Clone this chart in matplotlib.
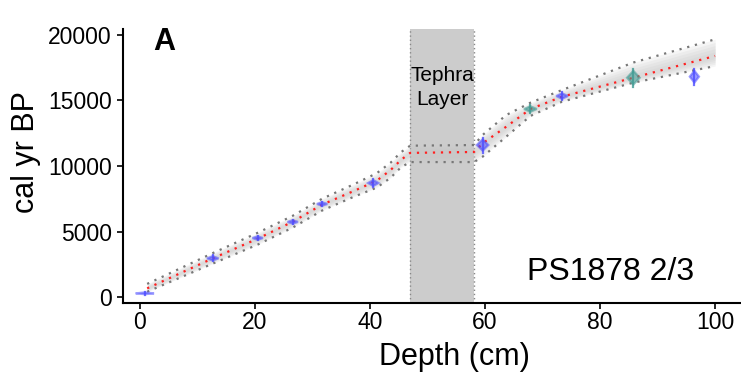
import matplotlib
matplotlib.use("Agg")
import matplotlib.pyplot as plt
import numpy as np
from matplotlib.patches import Polygon

plt.rcParams['font.family'] = ['Liberation Sans', 'DejaVu Sans']

# ---- data ----
# age-depth model (mean and confidence bounds)
model_depth = [1.3, 12.7, 20.5, 26.6, 31.7, 37.2, 41.2, 43.6, 45.4, 47.0,
               58.1, 59.6, 63.7, 67.9, 73.4, 85.8, 100.0]
model_mean = [660, 2950, 4450, 5750, 7050, 8090, 8880, 9690, 10460, 11000,
              11070, 11730, 13000, 14350, 15290, 16740, 18400]
model_upper = [1000, 3350, 4900, 6200, 7500, 8600, 9450, 10250, 11050, 11550,
               11600, 12370, 13890, 14830, 15800, 17900, 19670]
model_lower = [400, 2550, 4000, 5300, 6600, 7650, 8350, 9100, 9900, 10300,
               10300, 10710, 12240, 13820, 14910, 16360, 17630]

# dated samples
date_depth = [0.9, 12.7, 20.5, 26.6, 31.7, 40.6, 59.6, 67.9, 73.4, 85.8, 96.4]
date_age = [280, 2950, 4500, 5730, 7100, 8700, 11600, 14350, 15340, 16740, 16820]
date_age_err = [90, 220, 180, 180, 180, 300, 570, 280, 280, 700, 600]
date_depth_err = [1.6, 1.0, 0.9, 0.9, 0.9, 0.9, 1.0, 1.1, 1.0, 1.1, 0.8]
date_group = ['blue', 'blue', 'blue', 'blue', 'blue', 'blue', 'blue',
              'teal', 'blue', 'teal', 'blue']

tephra_top, tephra_bottom = 47.0, 58.1
x_ticks = [0, 20, 40, 60, 80, 100]
y_ticks = [0, 5000, 10000, 15000, 20000]

colors = {'blue': '#4d4dff', 'teal': '#3f9a92'}

# ---- figure ----
W, H = 741, 383
fig = plt.figure(figsize=(W / 100, H / 100), dpi=100)
left_px, right_px, top_px, bot_px = 123, 783, 29, 303
ax = fig.add_axes([left_px / W, 1 - bot_px / H, (right_px - left_px) / W,
                   (bot_px - top_px) / H])
ax.set_xlim(-2.9, 111.8)
ax.set_ylim(-458, 20458)

# tephra band
ax.axvspan(tephra_top, tephra_bottom, color='#cccccc', zorder=1, lw=0)
for xv in (tephra_top, tephra_bottom):
    ax.axvline(xv, color='#888888', ls=(0, (1, 2)), lw=1.0, zorder=1.5)

md = np.array(model_depth)
mm = np.array(model_mean)
mu = np.array(model_upper)
ml = np.array(model_lower)

# graded grey band
for f in np.linspace(1.0, 0.25, 5):
    ax.fill_between(md, mm + f * (mu - mm), mm - f * (mm - ml),
                    color='#c8c8c8', alpha=0.18, lw=0, zorder=2)

ax.plot(md, mu, color='#777777', ls=(0, (1, 2.6)), lw=1.6, zorder=3)
ax.plot(md, ml, color='#777777', ls=(0, (1, 2.6)), lw=1.6, zorder=3)
ax.plot(md, mm, color='#ff2020', ls=(0, (1, 2.6)), lw=1.6, zorder=4)

# date markers (diamonds + vertical whiskers)
for d, a, ae, de, g in zip(date_depth, date_age, date_age_err,
                           date_depth_err, date_group):
    c = colors[g]
    poly = Polygon([(d - de, a), (d, a + ae * 0.75), (d + de, a),
                    (d, a - ae * 0.75)], closed=True,
                   facecolor=c, edgecolor=c, alpha=0.55, lw=1.6, zorder=5)
    ax.add_patch(poly)
    ax.plot([d, d], [a - ae, a + ae], color=c, lw=1.6, alpha=0.8, zorder=5)

# axes styling
for s in ('top', 'right'):
    ax.spines[s].set_visible(False)
for s in ('left', 'bottom'):
    ax.spines[s].set_linewidth(1.5)
ax.set_xticks(x_ticks)
ax.set_yticks(y_ticks)
ax.set_yticklabels([str(v) for v in y_ticks])
ax.tick_params(axis='both', direction='out', length=4, width=1.2,
               labelsize=16.5, colors='black')
ax.tick_params(axis='y', pad=4)
ax.tick_params(axis='x', pad=2)

# annotations
ax.text(4.35, 19470, 'A', fontsize=22, fontweight='bold', ha='center',
        va='center', zorder=6)
ax.text((tephra_top + tephra_bottom) / 2, 16000, 'Tephra\nLayer', fontsize=15,
        ha='center', va='center', linespacing=1.35, zorder=6)
ax.text(81.9, 1910, 'PS1878 2/3', fontsize=23, ha='center', va='center',
        zorder=6)

fig.text(454 / W, 1 - 357 / H, 'Depth (cm)', fontsize=22, ha='center',
         va='center')
fig.text(26 / W, 1 - 152 / H, 'cal yr BP', fontsize=22, ha='center',
         va='center', rotation=90)

fig.savefig('out.png', dpi=100)
